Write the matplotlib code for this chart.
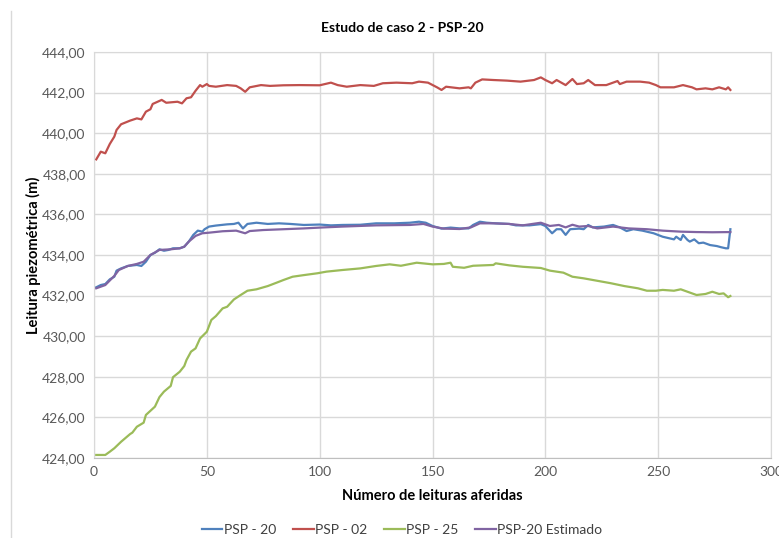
import matplotlib
matplotlib.use("Agg")
import matplotlib.pyplot as plt
from matplotlib.ticker import FuncFormatter, MultipleLocator
from matplotlib.lines import Line2D

plt.rcParams['font.family'] = ['Lato', 'DejaVu Sans']

# ── Data (reading number, head in m) ──────────────────────────────────────────
x_psp20 = [1, 3, 5, 7, 9, 10, 12, 15, 19, 21, 23, 25, 27, 29, 31, 33, 35, 38, 40, 42,
           44, 46, 48, 49, 51, 54, 59, 62, 64, 66, 68, 72, 77, 82, 87, 93, 100, 105, 110, 118,
           125, 133, 140, 144, 147, 150, 154, 158, 162, 166, 168, 171, 174, 178, 184, 187, 193, 198, 200, 203,
           205, 207, 209, 211, 215, 217, 219, 221, 226, 230, 233, 236, 239, 243, 248, 252, 257, 258, 260, 261,
           263, 264, 266, 268, 270, 273, 276, 278, 280, 281, 282]
y_psp20 = [432.41, 432.52, 432.57, 432.80, 432.93, 433.23, 433.34, 433.46, 433.51, 433.46,
           433.67, 434.00, 434.11, 434.28, 434.21, 434.25, 434.33, 434.33, 434.41, 434.66,
           434.99, 435.20, 435.15, 435.27, 435.40, 435.45, 435.51, 435.53, 435.59, 435.31,
           435.53, 435.59, 435.53, 435.56, 435.53, 435.48, 435.50, 435.46, 435.48, 435.49,
           435.56, 435.56, 435.59, 435.64, 435.59, 435.43, 435.30, 435.35, 435.31, 435.31,
           435.48, 435.64, 435.59, 435.56, 435.53, 435.46, 435.46, 435.52, 435.43, 435.07,
           435.27, 435.27, 434.99, 435.27, 435.30, 435.27, 435.48, 435.36, 435.40, 435.48,
           435.36, 435.18, 435.27, 435.20, 435.07, 434.90, 434.77, 434.90, 434.74, 434.99,
           434.74, 434.66, 434.77, 434.58, 434.61, 434.49, 434.44, 434.38, 434.33, 434.33, 435.27]

x_psp02 = [1, 3, 5, 7, 9, 10, 12, 16, 19, 21, 23, 25, 26, 30, 32, 37, 39, 41, 43, 45,
           47, 48, 50, 51, 54, 59, 63, 65, 67, 69, 74, 78, 84, 91, 100, 105, 108, 112, 118, 124,
           128, 134, 141, 144, 148, 152, 154, 156, 162, 166, 167, 169, 172, 177, 183, 189, 195, 198, 200, 203,
           205, 209, 212, 214, 217, 219, 222, 227, 232, 233, 236, 242, 246, 249, 251, 257, 261, 265, 267, 271,
           274, 277, 280, 281, 282]
y_psp02 = [438.71, 439.09, 439.01, 439.47, 439.83, 440.16, 440.44, 440.62, 440.73, 440.68,
           441.06, 441.18, 441.44, 441.64, 441.50, 441.55, 441.47, 441.72, 441.77, 442.09,
           442.37, 442.29, 442.42, 442.33, 442.29, 442.37, 442.33, 442.21, 442.04, 442.26,
           442.37, 442.33, 442.36, 442.37, 442.36, 442.49, 442.37, 442.29, 442.37, 442.33,
           442.46, 442.49, 442.46, 442.54, 442.49, 442.26, 442.13, 442.29, 442.21, 442.26,
           442.21, 442.49, 442.65, 442.62, 442.59, 442.54, 442.62, 442.75, 442.62, 442.46,
           442.62, 442.37, 442.67, 442.42, 442.46, 442.62, 442.37, 442.37, 442.57, 442.42,
           442.54, 442.54, 442.49, 442.37, 442.26, 442.26, 442.37, 442.26, 442.16, 442.21,
           442.16, 442.26, 442.16, 442.26, 442.13]

x_psp25 = [1, 5, 7, 9, 12, 16, 17, 19, 22, 23, 27, 29, 31, 34, 35, 38, 40, 41, 43, 45,
           47, 50, 52, 54, 57, 59, 62, 65, 68, 72, 77, 81, 84, 88, 93, 99, 103, 110, 118, 125,
           131, 136, 143, 150, 155, 158, 159, 164, 168, 177, 178, 184, 190, 198, 202, 208, 212, 217, 223, 229,
           235, 241, 245, 249, 252, 257, 260, 263, 267, 271, 274, 277, 279, 281, 282]
y_psp25 = [424.15, 424.15, 424.31, 424.48, 424.80, 425.18, 425.25, 425.54, 425.74, 426.12,
           426.53, 427.00, 427.27, 427.55, 427.98, 428.25, 428.53, 428.83, 429.24, 429.40,
           429.89, 430.22, 430.80, 430.99, 431.37, 431.45, 431.81, 432.03, 432.24, 432.31,
           432.47, 432.64, 432.77, 432.93, 433.01, 433.10, 433.18, 433.26, 433.34, 433.46,
           433.54, 433.47, 433.62, 433.54, 433.56, 433.62, 433.42, 433.37, 433.47, 433.51,
           433.59, 433.49, 433.42, 433.36, 433.23, 433.13, 432.93, 432.85, 432.73, 432.61,
           432.47, 432.36, 432.24, 432.24, 432.28, 432.24, 432.31, 432.19, 432.03, 432.08,
           432.19, 432.08, 432.11, 431.92, 431.98]

x_est = [1, 5, 9, 11, 15, 19, 22, 25, 29, 34, 38, 40, 42, 45, 48, 51, 57, 63, 67, 69,
         75, 84, 93, 100, 110, 125, 140, 146, 150, 155, 162, 167, 171, 177, 184, 190, 198, 202, 206, 209,
         212, 215, 219, 223, 230, 237, 245, 252, 260, 267, 274, 282]
y_est = [432.36, 432.52, 432.97, 433.26, 433.46, 433.56, 433.67, 434.00, 434.25, 434.28,
         434.33, 434.41, 434.66, 434.94, 435.07, 435.10, 435.17, 435.20, 435.07, 435.18,
         435.23, 435.27, 435.31, 435.35, 435.40, 435.46, 435.48, 435.53, 435.40, 435.30,
         435.28, 435.36, 435.56, 435.56, 435.53, 435.46, 435.59, 435.43, 435.48, 435.36,
         435.49, 435.40, 435.43, 435.31, 435.40, 435.31, 435.27, 435.20, 435.15, 435.13,
         435.12, 435.13]

labels = ['PSP - 20', 'PSP - 02', 'PSP - 25', 'PSP-20 Estimado']
colors = ['#4F81BD', '#C0504D', '#9BBB59', '#8064A2']

# ── Figure ────────────────────────────────────────────────────────────────────
W, H = 779, 538
fig = plt.figure(figsize=(W / 100, H / 100), dpi=100)
ax = fig.add_axes([94 / W, 1 - 458 / H, (771 - 94) / W, (458 - 52) / H])

series = [(x_psp20, y_psp20), (x_psp02, y_psp02), (x_psp25, y_psp25), (x_est, y_est)]
for (xs, ys), lab, c in zip(series, labels, colors):
    ax.plot(xs, ys, color=c, lw=1.6, label=lab)

ax.set_xlim(0, 300)
ax.set_ylim(424, 444)
ax.xaxis.set_major_locator(MultipleLocator(50))
ax.yaxis.set_major_locator(MultipleLocator(2))
ax.yaxis.set_major_formatter(FuncFormatter(lambda v, p: f'{v:.2f}'.replace('.', ',')))

ax.grid(True, color='#d9d9d9', lw=1.0)
ax.set_axisbelow(True)
for s in ['top', 'right', 'left']:
    ax.spines[s].set_color('#d9d9d9')
ax.spines['bottom'].set_color('#bfbfbf')
ax.tick_params(length=0, labelsize=10, colors='#595959', pad=6)

ax.set_xlabel('Número de leituras aferidas', fontsize=10.5, fontweight='bold', labelpad=8)
ax.set_ylabel('Leitura piezométrica (m)', fontsize=10.5, fontweight='bold', labelpad=1)

fig.text(402 / W, 1 - 28 / H, 'Estudo de caso 2 - PSP-20', ha='center', va='center',
         fontsize=10, fontweight='bold')

fig.legend(loc='center', bbox_to_anchor=(402 / W, 1 - 530 / H), ncol=4, frameon=False,
           fontsize=10, handlelength=1.5, handletextpad=0.1, columnspacing=1.2,
           labelcolor='#404040')

# chart-area border on the left
fig.add_artist(Line2D([11 / W, 11 / W], [0, 1 - 11 / H], color='#d9d9d9', lw=1.0))

fig.savefig('out.png', dpi=100, facecolor='white')
